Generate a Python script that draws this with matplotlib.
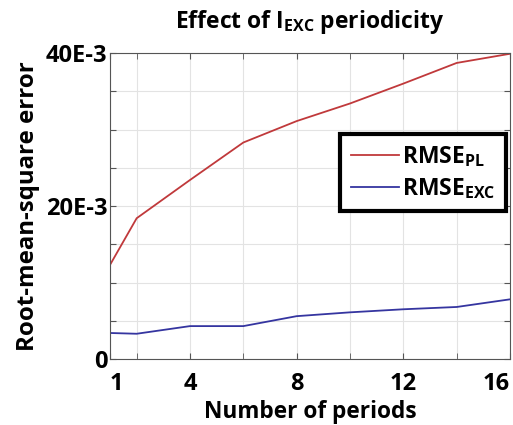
import matplotlib
matplotlib.use("Agg")
import matplotlib.pyplot as plt
from matplotlib.ticker import FixedLocator, FixedFormatter

plt.rcParams['font.family'] = ['Open Sans', 'DejaVu Sans']
plt.rcParams['mathtext.fontset'] = 'custom'
plt.rcParams['mathtext.bf'] = 'Open Sans:bold'
plt.rcParams['mathtext.rm'] = 'Open Sans:bold'
plt.rcParams['mathtext.it'] = 'Open Sans:bold'

periods = [1, 2, 4, 6, 8, 10, 12, 14, 16]
rmse_pl = [0.0123, 0.0184, 0.0234, 0.0283, 0.0311, 0.0334, 0.0360, 0.0387, 0.0399]
rmse_exc = [0.0034, 0.0033, 0.0043, 0.0043, 0.0056, 0.0061, 0.0065, 0.0068, 0.0078]

xticks_major = [1, 4, 8, 12, 16]
xticks_minor = [2, 6, 10, 14]
yticks = [0, 0.005, 0.010, 0.015, 0.020, 0.025, 0.030, 0.035, 0.040]
ytick_labels = ['0', '', '', '', '20E-3', '', '', '', '40E-3']

fig = plt.figure(figsize=(5.13, 4.25), dpi=100)
ax = fig.add_axes([110/513, 66/425, 400/513, 306/425])

ax.plot(periods, rmse_pl, color='#c0393b', lw=1.3, label=r'RMSE$_{\mathbf{PL}}$')
ax.plot(periods, rmse_exc, color='#3535a0', lw=1.3, label=r'RMSE$_{\mathbf{EXC}}$')

ax.set_xlim(1, 16)
ax.set_ylim(0, 0.040)
ax.xaxis.set_major_locator(FixedLocator(xticks_major))
ax.xaxis.set_minor_locator(FixedLocator(xticks_minor))
ax.yaxis.set_major_locator(FixedLocator(yticks))
ax.yaxis.set_major_formatter(FixedFormatter(ytick_labels))

ax.grid(True, which='both', color='#e3e3e3', lw=0.8)
ax.set_axisbelow(True)
ax.tick_params(which='both', direction='in', top=True, right=True, color='#555555', length=4)
ax.tick_params(axis='x', which='major', labelsize=17, pad=9)
ax.tick_params(axis='y', which='major', labelsize=17, pad=2)
for lbl in ax.get_xticklabels() + ax.get_yticklabels():
    lbl.set_fontweight('bold')
xl = ax.get_xticklabels()
xl[0].set_horizontalalignment('left')
xl[-1].set_horizontalalignment('right')
for s in ax.spines.values():
    s.set_color('#555555')
    s.set_linewidth(0.8)

ax.set_xlabel('Number of periods', fontsize=16.3, fontweight='bold', labelpad=3)
ax.set_ylabel('Root-mean-square error', fontsize=17.3, fontweight='bold', labelpad=4)
ax.set_title(r'Effect of I$_{\mathbf{EXC}}$ periodicity', fontsize=16.5, fontweight='bold', pad=18)

leg = ax.legend(loc='upper right', bbox_to_anchor=(0.99, 0.735), fancybox=False,
                framealpha=1, edgecolor='black', prop={'weight': 'bold', 'size': 16.5},
                handlelength=2.1, handletextpad=0.15, borderpad=0.45, labelspacing=0.3,
                borderaxespad=0)
leg.get_frame().set_linewidth(3)

fig.savefig('out.png', dpi=100)
